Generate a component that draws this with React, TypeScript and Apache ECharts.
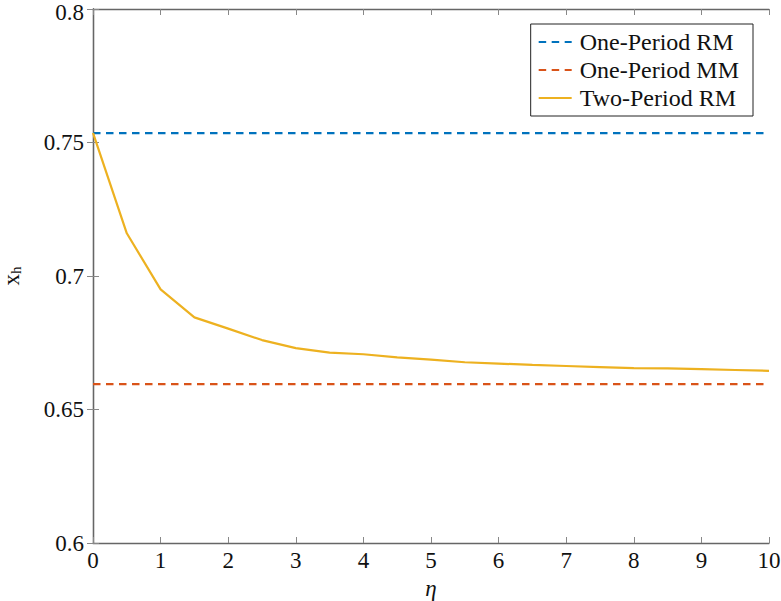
import React, { useEffect, useRef } from "react";
import * as echarts from "echarts";

const etaValues = [0, 0.5, 1, 1.5, 2, 2.5, 3, 3.5, 4, 4.5, 5, 5.5, 6, 6.5, 7, 7.5, 8, 8.5, 9, 9.5, 10];
const twoPeriodRM = [0.7536, 0.716, 0.695, 0.6845, 0.6803, 0.676, 0.673, 0.6713, 0.6707, 0.6695, 0.6687, 0.6677, 0.6672, 0.6667, 0.6663, 0.6659, 0.6655, 0.6654, 0.6651, 0.6648, 0.6645];
const onePeriodRM = 0.7535;
const onePeriodMM = 0.6595;
const xRange = [0, 10];
const yRange = [0.6, 0.8];
const seriesNames = ["One-Period RM", "One-Period MM", "Two-Period RM"];

const FONT = "'Liberation Serif', serif";

export default function App() {
  const ref = useRef<HTMLDivElement>(null);
  useEffect(() => {
    if (!ref.current) return;
    const chart = echarts.init(ref.current, undefined, { renderer: "svg" });
    const axisLine = { show: true, lineStyle: { color: "#666", width: 1.3 } };
    const axisTick = { show: true, inside: true, length: 6, lineStyle: { color: "#888", width: 1 } };
    chart.setOption({
      animation: false,
      backgroundColor: "#fff",
      textStyle: { fontFamily: FONT },
      grid: { left: 93, right: 12, top: 9, bottom: 58, containLabel: false, outerBoundsMode: "none" },
      legend: {
        orient: "vertical",
        right: 28,
        top: 24,
        padding: [6, 14, 6, 7],
        borderColor: "#222",
        borderWidth: 1,
        backgroundColor: "#fff",
        itemWidth: 33,
        itemHeight: 14,
        itemGap: 4,
        itemStyle: { opacity: 0 },
        textStyle: { fontFamily: FONT, fontSize: 24, color: "#111", lineHeight: 24, padding: [0, 0, 0, 3] },
        data: seriesNames,
      },
      xAxis: [
        {
          type: "value",
          min: xRange[0],
          max: xRange[1],
          interval: 1,
          position: "bottom",
          axisLine,
          axisTick,
          splitLine: { show: false },
          axisLabel: { fontFamily: FONT, fontSize: 23, color: "#111", margin: 6 },
          name: "η",
          nameLocation: "middle",
          nameGap: 29,
          nameTextStyle: { fontFamily: FONT, fontSize: 23, fontStyle: "italic", color: "#111" },
        },
        {
          type: "value",
          min: xRange[0],
          max: xRange[1],
          interval: 1,
          position: "top",
          axisLine,
          axisTick,
          splitLine: { show: false },
          axisLabel: { show: false },
        },
      ],
      yAxis: [
        {
          type: "value",
          min: yRange[0],
          max: yRange[1],
          interval: 0.05,
          position: "left",
          axisLine,
          axisTick,
          splitLine: { show: false },
          axisLabel: {
            fontFamily: FONT,
            fontSize: 23,
            color: "#111",
            margin: 9,
            formatter: (v: number) => (Math.abs(v - yRange[1]) < 1e-9 ? "{top|" + v + "}" : String(+v.toFixed(2))),
            rich: {
              top: { fontFamily: FONT, fontSize: 23, color: "#111", padding: [6, 0, 0, 0] },
            },
          },
          name: "x{sub|h}",
          nameLocation: "middle",
          nameGap: 70,
          nameTextStyle: {
            fontFamily: FONT,
            fontSize: 23,
            color: "#111",
            rich: {
              sub: { fontFamily: FONT, fontSize: 15, color: "#111", verticalAlign: "bottom", padding: [8, 0, 0, 0] },
            },
          },
        },
        {
          type: "value",
          min: yRange[0],
          max: yRange[1],
          interval: 0.05,
          position: "right",
          axisLine,
          axisTick,
          splitLine: { show: false },
          axisLabel: { show: false },
        },
      ],
      series: [
        {
          name: seriesNames[0],
          type: "line",
          symbol: "none",
          data: [[xRange[0], onePeriodRM], [xRange[1], onePeriodRM]],
          lineStyle: { color: "#0072BD", width: 2.2, type: [7.5, 5.5] },
          itemStyle: { color: "#0072BD" },
        },
        {
          name: seriesNames[1],
          type: "line",
          symbol: "none",
          data: [[xRange[0], onePeriodMM], [xRange[1], onePeriodMM]],
          lineStyle: { color: "#D95319", width: 2.2, type: [7.5, 5.5] },
          itemStyle: { color: "#D95319" },
        },
        {
          name: seriesNames[2],
          type: "line",
          symbol: "none",
          data: etaValues.map((x, i) => [x, twoPeriodRM[i]]),
          lineStyle: { color: "#EDB120", width: 2.2 },
          itemStyle: { color: "#EDB120" },
        },
      ],
    });
    return () => chart.dispose();
  }, []);
  return <div ref={ref} style={{ width: 781, height: 601, position: "absolute", left: 0, top: 0 }} />;
}
